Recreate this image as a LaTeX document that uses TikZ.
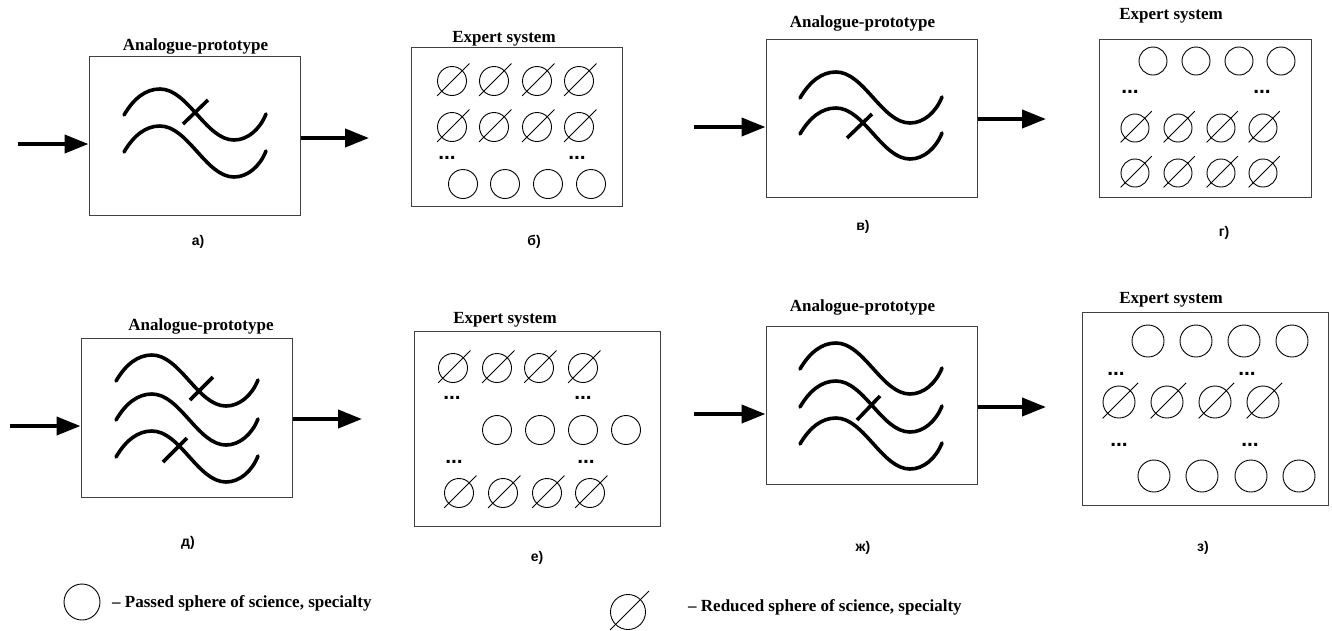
\documentclass[tikz,border=0pt]{standalone}
\usepackage{fontspec}
\setmainfont{Liberation Serif}
\newfontfamily\lsans{Liberation Sans}
\usetikzlibrary{arrows.meta,calc,fit}
\tikzset{
  boxst/.style={draw=black!75,line width=1pt,inner sep=0pt,fill=none},
  ttl/.style={font=\fontsize{17}{20}\selectfont\bfseries,anchor=base,inner sep=0pt},
  lbl/.style={font=\lsans\fontsize{14}{16}\selectfont\bfseries,inner sep=0pt},
  dotsst/.style={font=\lsans\fontsize{21}{24}\selectfont\bfseries,inner sep=0pt,anchor=base},
  sph/.style={circle,draw,inner sep=0pt,line width=0.9pt,minimum size=29pt},
  slashst/.style={line width=0.9pt},
  wavy/.style={line width=3.6pt,line cap=round},
  crossst/.style={line width=3.6pt},
  bigarrow/.style={line width=4pt,-{Triangle[length=24pt,width=18pt]}},
  legtxt/.style={font=\fontsize{17}{20}\selectfont\bfseries,anchor=west,inner sep=0pt},
}
\newcommand\Ps[3]{\node[sph] (#1) at (#2,#3) {};}
\newcommand\Rd[3]{\node[sph] (#1) at (#2,#3) {};
  \draw[slashst] ($(#1)!1.41!(#1.225)$) -- ($(#1)!1.65!(#1.45)$);}
\newcommand\wave[2]{\begin{scope}[shift={(#1,#2)}]
  \draw[wavy] (0,0) .. controls (10,-17) and (22,-26) .. (36,-26)
    .. controls (64,-26) and (82,25) .. (110,25)
    .. controls (124,25) and (136,14) .. (142,-1);
  \end{scope}}
\begin{document}
\begin{tikzpicture}[x=1pt,y=-1pt]
\useasboundingbox (0,0) rectangle (1332,630);
\fill[white] (0,0) rectangle (1332,630);

% ---------- a) ----------
\node[boxst,fit={(89,56) (300,215)}] (bA) {};
\node[ttl] (tA) at (195.5,50) {Analogue-prototype};
\wave{124}{115}
\wave{124}{152}
\draw[crossst] (183,124) -- (208,100);
\coordinate (aIn) at (18,144);
\coordinate (aOut) at (369,138);
\draw[bigarrow] (aIn) -- (aIn -| bA.west);
\draw[bigarrow] (aOut -| bA.east) -- (aOut);
\node[lbl] (lA) at (198,242) {а)};

% ---------- б) ----------
\node[boxst,fit={(411,47) (622,206)}] (bB) {};
\node[ttl] (tB) at (504,42) {Expert system};
\Rd{b11}{452}{81}\Rd{b12}{494}{81}\Rd{b13}{537}{81}\Rd{b14}{579}{81}
\Rd{b21}{452}{127}\Rd{b22}{494}{127}\Rd{b23}{537}{127}\Rd{b24}{579}{127}
\node[dotsst] (bd1) at (447,159) {...};
\node[dotsst] (bd2) at (577,159) {...};
\Ps{b31}{463}{184}\Ps{b32}{505}{184}\Ps{b33}{548}{184}\Ps{b34}{591}{184}
\node[lbl] (lB) at (534,242) {б)};

% ---------- в) ----------
\node[boxst,fit={(766,39) (977,197)}] (bC) {};
\node[ttl] (tC) at (862.5,27) {Analogue-prototype};
\wave{800}{98}
\wave{800}{134}
\draw[crossst] (847,138) -- (872,114);
\coordinate (cIn) at (694,127);
\coordinate (cOut) at (1046,119);
\draw[bigarrow] (cIn) -- (cIn -| bC.west);
\draw[bigarrow] (cOut -| bC.east) -- (cOut);
\node[lbl] (lC) at (863,227) {в)};

% ---------- г) ----------
\node[boxst,fit={(1099,39) (1311,197)}] (bD) {};
\node[ttl] (tD) at (1171,19) {Expert system};
\begin{scope}[sph/.append style={minimum size=28pt}]
\Ps{d11}{1153}{61}\Ps{d12}{1196}{61}\Ps{d13}{1239}{61}\Ps{d14}{1281}{61}
\Rd{d21}{1135}{128}\Rd{d22}{1178}{128}\Rd{d23}{1221}{128}\Rd{d24}{1263}{128}
\Rd{d31}{1135}{173}\Rd{d32}{1178}{173}\Rd{d33}{1221}{173}\Rd{d34}{1263}{173}
\end{scope}
\node[dotsst] (dd1) at (1130,93) {...};
\node[dotsst] (dd2) at (1262,93) {...};
\node[lbl] (lD) at (1224,233) {г)};

% ---------- д) ----------
\node[boxst,fit={(81,338) (292,497)}] (bE) {};
\node[ttl] (tE) at (201,330) {Analogue-prototype};
\wave{116}{381}
\wave{116}{420}
\wave{116}{457}
\draw[crossst] (190,400) -- (213,377);
\draw[crossst] (163,462) -- (187,438);
\coordinate (eIn) at (10,426);
\coordinate (eOut) at (362,419);
\draw[bigarrow] (eIn) -- (eIn -| bE.west);
\draw[bigarrow] (eOut -| bE.east) -- (eOut);
\node[lbl] (lE) at (188,543) {д)};

% ---------- е) ----------
\node[boxst,fit={(414,331) (660,526)}] (bF) {};
\node[ttl] (tF) at (505,323) {Expert system};
\Rd{f11}{453}{368}\Rd{f12}{497}{368}\Rd{f13}{539}{368}\Rd{f14}{583}{368}
\node[dotsst] (fd1) at (452,399) {...};
\node[dotsst] (fd2) at (583,399) {...};
\Ps{f21}{497}{430}\Ps{f22}{540}{430}\Ps{f23}{583}{430}\Ps{f24}{626}{430}
\node[dotsst] (fd3) at (454,463) {...};
\node[dotsst] (fd4) at (586,463) {...};
\Rd{f31}{459}{493}\Rd{f32}{503}{493}\Rd{f33}{547}{493}\Rd{f34}{590}{493}
\node[lbl] (lF) at (537,558) {е)};

% ---------- ж) ----------
\node[boxst,fit={(766,326) (977,484)}] (bG) {};
\node[ttl] (tG) at (862.5,311) {Analogue-prototype};
\wave{800}{369}
\wave{800}{407}
\wave{800}{444}
\draw[crossst] (857,420) -- (880,396);
\coordinate (gIn) at (694,414);
\coordinate (gOut) at (1046,407);
\draw[bigarrow] (gIn) -- (gIn -| bG.west);
\draw[bigarrow] (gOut -| bG.east) -- (gOut);
\node[lbl] (lG) at (863,548) {ж)};

% ---------- з) ----------
\node[boxst,fit={(1082,312) (1328,505)}] (bH) {};
\node[ttl] (tH) at (1171,303) {Expert system};
\begin{scope}[sph/.append style={minimum size=32pt}]
\Ps{h11}{1148}{341}\Ps{h12}{1196}{341}\Ps{h13}{1244}{341}\Ps{h14}{1292}{341}
\Rd{h21}{1119}{402}\Rd{h22}{1167}{402}\Rd{h23}{1215}{402}\Rd{h24}{1263}{402}
\Ps{h31}{1154}{476}\Ps{h32}{1202}{476}\Ps{h33}{1251}{476}\Ps{h34}{1299}{476}
\end{scope}
\node[dotsst] (hd1) at (1116,375) {...};
\node[dotsst] (hd2) at (1247,375) {...};
\node[dotsst] (hd3) at (1119,446) {...};
\node[dotsst] (hd4) at (1250,446) {...};
\node[lbl] (lH) at (1203,548) {з)};

% ---------- legend ----------
\begin{scope}[sph/.append style={minimum size=36pt}]
\Ps{legP}{82}{602}
\end{scope}
\node[legtxt] (legPt) at (112,603) {– Passed sphere of science, specialty};
\begin{scope}[sph/.append style={minimum size=35pt}]
\Rd{legR}{628}{612}
\end{scope}
\node[legtxt] (legRt) at (688,607) {– Reduced sphere of science, specialty};
\end{tikzpicture}
\end{document}
